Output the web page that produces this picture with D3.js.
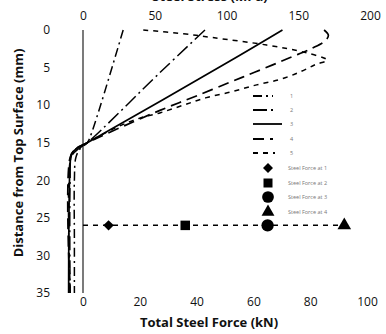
<!DOCTYPE html>
<html><head><meta charset="utf-8">
<script src="https://cdn.jsdelivr.net/npm/d3@7"></script>
<style>
html,body{margin:0;padding:0;background:#fff;}
svg{display:block;font-family:"Open Sans","DejaVu Sans",sans-serif;}
</style></head>
<body>
<svg id="c" width="386" height="334"></svg>
<script>
// ---- data ----
const depthTicks = [0,5,10,15,20,25,30,35];
const stressTicks = [0,50,100,150,200];
const forceTicks = [0,20,40,60,80,100];
const lineNames = ["1","2","3","4","5"];
// [top-axis value, depth mm]
const line1 = [[28,0],[6,13.7],[3,15],[-2,15.8],[-5,17],[-6,20],[-6,28],[-6,35]];
const line2 = [[85,0],[54,5.6],[3,15],[-3,15.8],[-8,16.8],[-9,20],[-9,35]];
const line3 = [[139,0],[100,4.4],[3,15],[-4,15.7],[-8,16.5],[-9,18],[-10,35]];
const line4 = [[168,0],[171,0.7],[169,1.4],[160,2.4],[144,3.7],[120,5.6],[103,6.9],[80,8.7],[60,10.2],[40,11.8],[3,15],[-5,15.8],[-9,17],[-9,35]];
const line5 = [[42,0],[70,0.5],[90,1],[128,2],[155,3],[170,4],[162,4.6],[151,5.6],[137,6.6],[121,7.3],[104,8.2],[86,9],[70,10],[54,11],[40,11.7],[24,12.9],[3,15],[-6,16],[-9,17.5],[-9,35]];
const forceNames = ["Steel Force at 1","Steel Force at 2","Steel Force at 3","Steel Force at 4"];
const forceValues = [9,36,65,92];
const forceDepth = 26;

// ---- scales ----
const svg = d3.select("#c");
const y = d3.scaleLinear().domain([0,35]).range([30,293]);
const xTop = d3.scaleLinear().domain([0,200]).range([83,370]);
const xBot = d3.scaleLinear().domain([0,100]).range([83,367]);

// axes (labels only)
const gy = svg.append("g").attr("transform","translate(50,0)")
  .call(d3.axisLeft(y).tickValues(depthTicks).tickSize(0).tickPadding(0));
gy.select(".domain").remove();
gy.selectAll("text").attr("font-size",12).attr("font-family","Open Sans, sans-serif").attr("fill","#111");

const gt = svg.append("g").attr("transform","translate(0,20)")
  .call(d3.axisTop(xTop).tickValues(stressTicks).tickSize(0).tickPadding(0));
gt.select(".domain").remove();
gt.selectAll("text").attr("font-size",12).attr("font-family","Open Sans, sans-serif").attr("fill","#111");

const gb = svg.append("g").attr("transform","translate(0,297)")
  .call(d3.axisBottom(xBot).tickValues(forceTicks).tickSize(0).tickPadding(0));
gb.select(".domain").remove();
gb.selectAll("text").attr("font-size",12).attr("font-family","Open Sans, sans-serif").attr("fill","#111");

// titles
svg.append("text").attr("x",209).attr("y",327).attr("text-anchor","middle")
  .attr("font-size",13).attr("font-weight","bold").attr("fill","#111").text("Total Steel Force (kN)");
svg.append("text").attr("transform","translate(23,153) rotate(-90)").attr("text-anchor","middle")
  .attr("font-size",13).attr("font-weight","bold").attr("fill","#111").text("Distance from Top Surface (mm)");
svg.append("text").attr("x",210).attr("y",1).attr("text-anchor","middle")
  .attr("font-size",13).attr("font-weight","bold").attr("fill","#111").text("Steel Stress (MPa)");

// zero line
svg.append("line").attr("x1",xTop(0)).attr("x2",xTop(0)).attr("y1",y(0)).attr("y2",y(35))
  .attr("stroke","#222").attr("stroke-width",1.2);

// lines
const styles = [
  {dash:"9,4,2,4", w:1.5},
  {dash:"14,4,2,4", w:1.5},
  {dash:null, w:1.7},
  {dash:"11,6", w:1.7},
  {dash:"5,5", w:1.5}
];
const lines = [line1,line2,line3,line4,line5];
const gen = d3.line().x(d=>xTop(d[0])).y(d=>y(d[1])).curve(d3.curveCatmullRom.alpha(0.5));
lines.forEach((L,i)=>{
  svg.append("path").attr("d",gen(L)).attr("fill","none").attr("stroke","#000")
    .attr("stroke-width",styles[i].w).attr("stroke-dasharray",styles[i].dash);
});

// steel force row
svg.append("line").attr("x1",xBot(0)).attr("x2",xBot(forceValues[3])).attr("y1",y(forceDepth)).attr("y2",y(forceDepth))
  .attr("stroke","#000").attr("stroke-width",1.5).attr("stroke-dasharray","5,5");
const symTypes = [d3.symbolSquare, d3.symbolSquare, d3.symbolCircle, d3.symbolTriangle];
const symRot = [45,0,0,0];
const symSizes = [55,90,120,80];
forceValues.forEach((v,i)=>{
  svg.append("path").attr("d",d3.symbol().type(symTypes[i]).size(symSizes[i])())
    .attr("transform",`translate(${xBot(v)},${y(forceDepth)}) rotate(${symRot[i]})`).attr("fill","#000");
});

// legend
const legY = [96,110,124,139,153];
const legLen = [20,22,29,20,22];
lineNames.forEach((n,i)=>{
  svg.append("line").attr("x1",253).attr("x2",253+legLen[i]).attr("y1",legY[i]).attr("y2",legY[i])
    .attr("stroke","#000").attr("stroke-width",1.8).attr("stroke-dasharray",styles[i].dash);
  svg.append("text").attr("x",290).attr("y",legY[i]+2).attr("font-size",5.5).attr("fill","#777").text(n);
});
const mLegY = [168,183,197,212];
forceNames.forEach((n,i)=>{
  svg.append("path").attr("d",d3.symbol().type(symTypes[i]).size(symSizes[i]*0.9)())
    .attr("transform",`translate(268,${mLegY[i]}) rotate(${symRot[i]})`).attr("fill","#000");
  svg.append("text").attr("x",288).attr("y",mLegY[i]+2).attr("font-size",5.5).attr("fill","#777").text(n);
});
</script>
</body></html>
